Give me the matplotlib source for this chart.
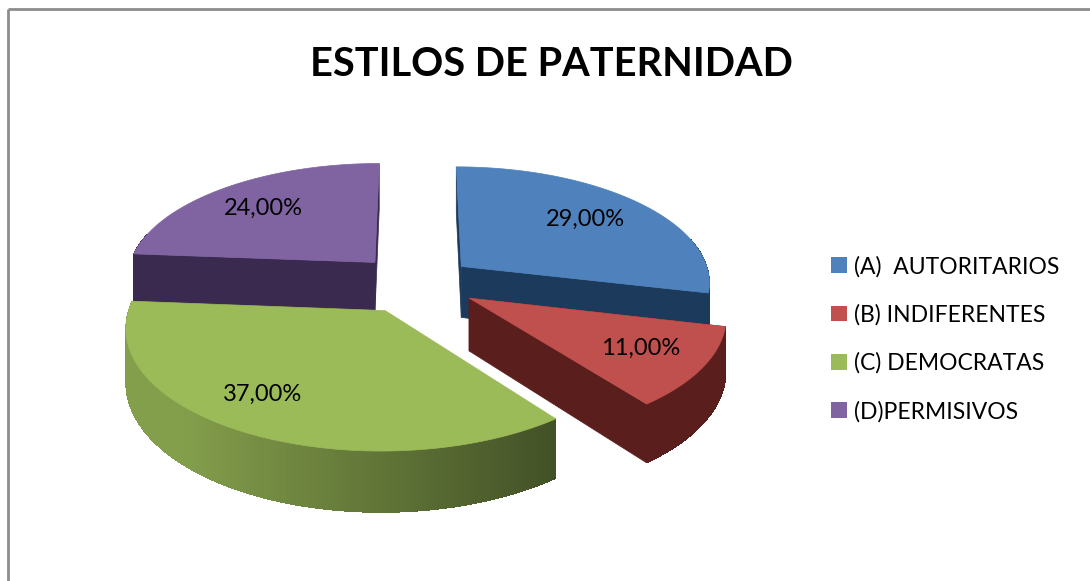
#3D exploded pie, drawn by hand because matplotlib has no perspective pie
import numpy as np
import matplotlib
matplotlib.use('Agg')
import matplotlib.pyplot as plt
from matplotlib.patches import Patch, Polygon

title = 'ESTILOS DE PATERNIDAD'
categories = ['(A)  AUTORITARIOS', '(B) INDIFERENTES', '(C) DEMOCRATAS', '(D)PERMISIVOS']
values = [29.0, 11.0, 37.0, 24.0]
labels = ['29,00%', '11,00%', '37,00%', '24,00%']
colors = ['#4f81bd', '#c0504d', '#9bbb59', '#8064a2']
dark_colors = ['#1c3a5c', '#5a1f1c', '#4a5a28', '#3a2a50']
label_pos = [(585, 219), (641, 348), (263, 394), (263, 208)]
nudge = [(-1, 0), (2, 0), (-3, 3), (-3, -1)]

# projection of the pie plane on to the picture
cx, cy = 417, 283
rx, ry = 250, 116
k = 0.126
explode = 0.235
depth = 52


def project(u, v, drop=0.0):
    w = 1 + k * v
    return cx + rx * u / w, cy - ry * v / w + drop * depth / w


def slice_points(a0, a1, off, drop=0.0, n=240):
    # a0 > a1, angles in degrees, going clockwise
    mid = np.radians((a0 + a1) / 2)
    ou, ov = explode * np.cos(mid), explode * np.sin(mid)
    t = np.radians(np.linspace(a0, a1, n))
    xs, ys = project(ou + np.cos(t), ov + np.sin(t), drop)
    ax0, ay0 = project(ou, ov, drop)
    return np.array(xs) + off[0], np.array(ys) + off[1], (ax0 + off[0], ay0 + off[1])


fig = plt.figure(figsize=(10.9, 5.81), dpi=100)
ax = fig.add_axes([0, 0, 1, 1])
ax.set_xlim(0, 1090)
ax.set_ylim(581, 0)
ax.axis('off')

ax.plot([8, 8], [581, 9], color='#8c8c8c', lw=2, solid_capstyle='butt')
ax.plot([8, 1090], [9, 9], color='#8c8c8c', lw=2, solid_capstyle='butt')

# slice angles, clockwise from the top
total = sum(values)
angles = []
start = 90.0
for val in values:
    end = start - val / total * 360
    angles.append((start, end))
    start = end

# back slices first
order = [3, 0, 2, 1]
for i in order:
    a0, a1 = angles[i]
    xs, ys, apex = slice_points(a0, a1, nudge[i])
    xb, yb, apex_b = slice_points(a0, a1, nudge[i], drop=1.0)
    zo = 2 + order.index(i)

    # rim, shaded by direction: only the green one has a visible gradient
    t = np.linspace(a0, a1, len(xs))
    base = np.array(matplotlib.colors.to_rgb(colors[i]))
    dark = np.array(matplotlib.colors.to_rgb(dark_colors[i]))
    for j in range(len(xs) - 1):
        if np.sin(np.radians(t[j])) > 0.25:
            continue
        c = np.cos(np.radians(t[j]))
        shade = base * np.clip(0.72 - 0.32 * (c + 0.3), 0.36, 0.85) if i == 2 else dark
        j2 = min(j + 2, len(xs) - 1)
        quad = [(xs[j], ys[j]), (xs[j2], ys[j2]), (xb[j2], yb[j2]), (xb[j], yb[j])]
        ax.add_patch(Polygon(quad, closed=True, fc=shade, ec='none', antialiased=False, zorder=zo))

    # flat faces along the two cuts
    for j in [0, -1]:
        face = [apex, (xs[j], ys[j]), (xb[j], yb[j]), apex_b]
        if i == 2:
            continue
        ax.add_patch(Polygon(face, closed=True, fc=dark_colors[i], ec=dark_colors[i], lw=0.5, zorder=zo))

    top = np.column_stack([np.append(xs, apex[0]), np.append(ys, apex[1])])
    ax.add_patch(Polygon(top, closed=True, fc=colors[i], ec=colors[i], lw=0.5, zorder=zo + 0.5))

for lab, (lx, ly) in zip(labels, label_pos):
    ax.text(lx, ly, lab, ha='center', va='center', fontsize=17, family='Lato', color='black', zorder=10)

ax.text(551, 64, title, ha='center', va='center', fontsize=28.6, fontweight='bold', family='Lato', color='black')

handles = [Patch(fc=c, ec='none') for c in colors]
ax.legend(handles, categories, loc='center left', bbox_to_anchor=(820 / 1090, 1 - 339 / 581),
          frameon=False, prop={'family': 'Lato', 'size': 16.5}, handlelength=0.68, handleheight=0.68,
          handletextpad=0.3, labelspacing=1.17, borderpad=0, borderaxespad=0.5)

fig.savefig('out.png', dpi=100)
